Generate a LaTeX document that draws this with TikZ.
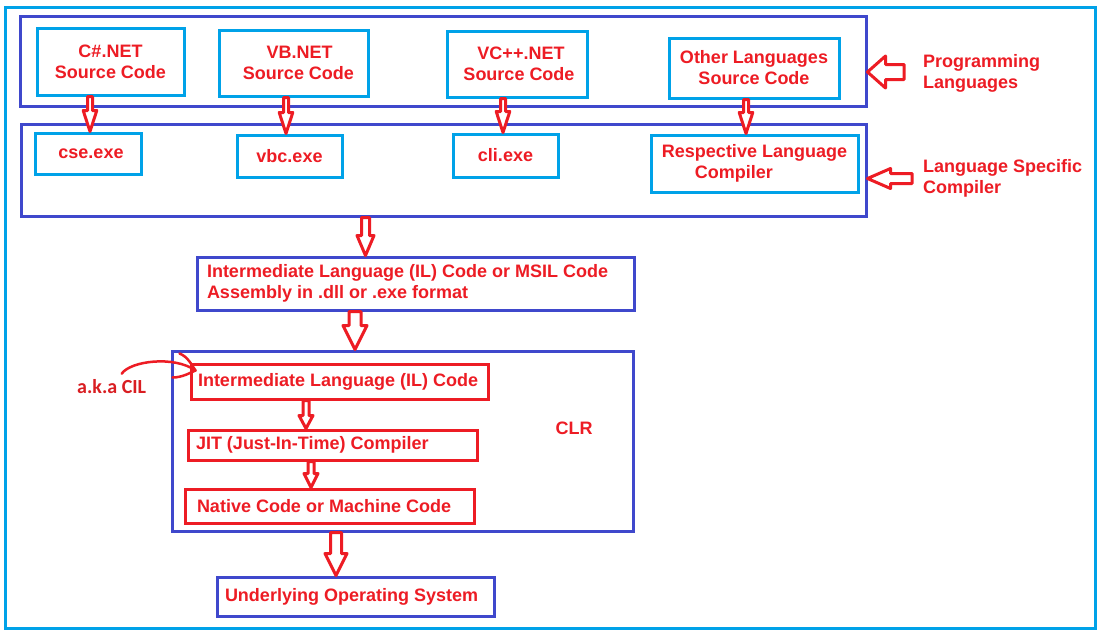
\documentclass[tikz,border=0pt]{standalone}
\usepackage{fontspec}
\setmainfont{Liberation Sans}
\newfontfamily\calib{Carlito}
\usetikzlibrary{calc}
\definecolor{cyanb}{HTML}{00A2E8}
\definecolor{indigob}{HTML}{3F48CC}
\definecolor{redp}{HTML}{ED1C24}
\definecolor{akared}{HTML}{D91E22}
\tikzset{
  every node/.style={font=\fontsize{18}{21}\selectfont\bfseries, text=redp},
  cbox/.style={draw=cyanb, line width=3pt, inner sep=0pt, align=center},
  bbox/.style={draw=indigob, line width=3pt, inner sep=0pt, align=left},
  rbox/.style={draw=redp, line width=3pt, inner sep=0pt, align=left},
  blockarr/.style={draw=redp, line width=3pt, fill=white, line join=round},
  hand/.style={draw=redp, line width=2.5pt, line cap=round},
  lbl/.style={inner sep=0pt, align=left, anchor=west},
}
% down block arrow: #1 x, #2 from anchor, #3 to anchor, #4 shaft half width, #5 head half width, #6 head length
\newcommand\dnarrow[6]{%
  \draw[blockarr] let \p1=(#2), \p2=(#3) in
    (#1pt-#4pt,\y1) -- (#1pt+#4pt,\y1) -- (#1pt+#4pt,\y2+#6pt) -- (#1pt+#5pt,\y2+#6pt)
    -- (#1pt,\y2) -- (#1pt-#5pt,\y2+#6pt) -- (#1pt-#4pt,\y2+#6pt) -- cycle;}
% left block arrow: #1 tail coordinate, #2 target anchor, #3 shaft hw, #4 head hw, #5 head length
\newcommand\lfarrow[5]{%
  \draw[blockarr] let \p1=(#1), \p2=(#2) in
    (\x1,\y1+#3pt) -- (\x2+#5pt,\y1+#3pt) -- (\x2+#5pt,\y1+#4pt) -- (\x2,\y1)
    -- (\x2+#5pt,\y1-#4pt) -- (\x2+#5pt,\y1-#3pt) -- (\x1,\y1-#3pt) -- cycle;}
\begin{document}
\begin{tikzpicture}[x=1pt,y=-1pt]
\useasboundingbox[fill=white] (0,0) rectangle (1100,633);
% outer frame
\node[cbox, minimum width=1090pt, minimum height=621pt] (frame) at (550,317.5) {};
% group boxes
\node[bbox, minimum width=846pt, minimum height=90pt] (pl) at (443,61) {};
\node[bbox, minimum width=845pt, minimum height=92pt] (lsc) at (443.5,170) {};
% source code boxes
\node[cbox, minimum width=147pt, minimum height=67pt] (cs) at (110.5,61.5) {C\#.NET\\Source Code};
\node[cbox, minimum width=149pt, minimum height=66pt] (vb) at (293.5,63) {\hspace*{12pt}VB.NET\\\hspace*{10pt}Source Code};
\node[cbox, minimum width=140pt, minimum height=66pt] (vc) at (517,64) {\hspace*{8pt}VC++.NET\\\hspace*{4pt}Source Code};
\node[cbox, minimum width=170pt, minimum height=60pt] (oth) at (754,68) {Other Languages\\Source Code};
% compilers
\node[cbox, minimum width=106pt, minimum height=41pt] (cse) at (88,153.5) {\hspace*{6pt}cse.exe};
\node[cbox, minimum width=105pt, minimum height=42pt] (vbc) at (289.5,156) {vbc.exe};
\node[cbox, minimum width=105pt, minimum height=43pt] (cli) at (505.5,155.5) {cli.exe};
\node[cbox, minimum width=207pt, minimum height=57pt, align=left] (resp) at (754.5,163.5) {Respective Language\\\hspace*{33pt}Compiler};
% IL assembly
\node[bbox, minimum width=437pt, minimum height=53pt] (il) at (415.5,283.5)
  {\makebox[417pt][l]{Intermediate Language (IL) Code or MSIL Code}\\Assembly in .dll or .exe format};
% CLR
\node[bbox, minimum width=461pt, minimum height=180pt] (clr) at (402.5,441) {};
\node[inner sep=0pt] (clrlbl) at (574,428) {CLR};
\node[rbox, minimum width=297pt, minimum height=35pt] (ilc) at (339.5,381.5) {\makebox[283pt][l]{Intermediate Language (IL) Code}};
\node[rbox, minimum width=289pt, minimum height=30pt] (jit) at (332.5,445) {\makebox[273pt][l]{JIT (Just-In-Time) Compiler}};
\node[rbox, minimum width=289pt, minimum height=34pt] (nat) at (329.5,506) {\makebox[265pt][l]{Native Code or Machine Code}};
% OS
\node[bbox, minimum width=277pt, minimum height=39pt] (os) at (355.5,596.5) {\makebox[261pt][l]{Underlying Operating System}};
% side labels
\node[lbl] (pltxt) at (923,73) {Programming\\Languages};
\node[lbl] (lsctxt) at (923,178) {Language Specific\\Compiler};
\coordinate (pltail) at (904,72);
\coordinate (lsctail) at (912,178.5);
% block arrows
\dnarrow{90}{cs.south}{cse.north}{2.5}{6.8}{21}
\dnarrow{286}{vb.south}{vbc.north}{2.5}{6.8}{21}
\dnarrow{503}{vc.south}{cli.north}{2.5}{6.8}{21}
\dnarrow{746}{oth.south}{resp.north}{2.5}{6.8}{21}
\dnarrow{365.5}{lsc.south}{il.north}{4}{8.5}{20}
\dnarrow{355}{il.south}{clr.north}{6}{12}{24}
\dnarrow{306}{ilc.south}{jit.north}{3}{7}{13}
\dnarrow{311}{jit.south}{nat.north}{3}{7}{14}
\dnarrow{336}{clr.south}{os.north}{5.5}{11}{22}
\lfarrow{pltail}{pl.east}{7.5}{16}{18}
\lfarrow{lsctail}{lsc.east}{5}{10}{23}
% a.k.a CIL
\node[font=\calib\fontsize{20}{24}\selectfont\bfseries, text=akared, inner sep=0pt, anchor=west] (aka) at (77,387) {a.k.a CIL};
\coordinate (akastart) at ($(aka.north)+(10,-6)$);
\coordinate (akatip) at ($(ilc.north west)+(6,8)$);
\draw[hand] (akastart) .. controls +(9,-13) and +(-21,-15) .. (akatip);
\draw[hand] ($(akatip)+(-16,-17)$) .. controls +(8,3) and +(-4,-6) .. (akatip);
\draw[hand] ($(akatip)+(-23,7)$) .. controls +(10,0) and +(-5,2) .. (akatip);
\end{tikzpicture}
\end{document}
